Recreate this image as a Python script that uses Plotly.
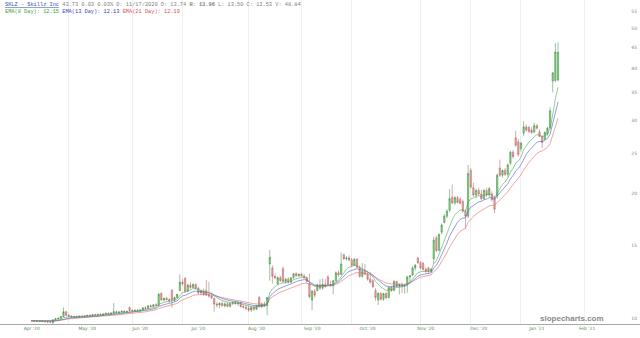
import math
import pandas as pd
import plotly.graph_objects as go

HOLIDAYS = ["2020-04-10", "2020-05-25", "2020-07-03", "2020-09-07", "2020-11-26",
            "2020-12-25", "2021-01-01", "2021-01-18", "2021-02-15"]

OPEN = [9.85, 9.84, 9.83, 9.82, 9.80, 9.81, 9.79, 9.78, 9.75, 9.90,
        9.95, 9.98, 10.08, 10.35, 10.15, 10.10, 10.06, 10.08, 10.05, 10.10,
        10.07, 10.11, 10.14, 10.12, 10.18, 10.15, 10.20, 10.17, 10.22, 10.26,
        10.22, 10.28, 10.35, 10.30, 10.34, 10.38, 10.33, 10.60, 10.42, 10.40,
        10.44, 10.41, 10.45, 10.58, 10.55, 10.70, 10.66, 10.76, 10.72, 11.45,
        11.05, 11.15, 11.08, 11.65, 11.05, 11.20, 11.65, 12.20, 12.45, 11.60,
        12.00, 11.85, 12.05, 11.80, 11.50, 11.60, 11.65, 11.35, 11.30, 11.15,
        10.80, 10.75, 10.85, 10.70, 10.82, 10.66, 10.84, 10.90, 10.82, 10.88,
        10.65, 10.62, 10.55, 10.45, 10.60, 10.50, 11.20, 10.65, 10.80, 10.70,
        13.50, 13.20, 12.60, 12.10, 12.50, 13.15, 12.25, 12.40, 12.20, 12.50,
        12.78, 12.65, 12.75, 12.62, 12.50, 12.10, 11.05, 11.60, 11.65, 12.00,
        11.80, 12.05, 12.55, 12.05, 11.95, 12.30, 12.85, 12.75, 14.20, 13.90,
        13.95, 13.80, 13.40, 13.85, 13.25, 12.60, 12.95, 12.75, 12.40, 12.30,
        11.65, 11.05, 11.45, 11.10, 11.45, 11.20, 11.85, 11.65, 12.25, 11.95,
        12.05, 11.95, 12.00, 12.55, 12.70, 13.20, 13.95, 13.60, 13.55, 13.10,
        13.20, 12.95, 13.90, 15.60, 14.55, 16.10, 17.00, 17.60, 18.20, 19.55,
        18.95, 19.50, 19.30, 19.10, 18.10, 17.60, 22.70, 20.60, 19.80, 20.30,
        19.90, 19.40, 20.30, 19.80, 19.90, 19.50, 19.70, 23.00, 22.10, 22.70,
        22.20, 23.60, 25.10, 27.20, 26.60, 25.60, 27.90, 28.90, 28.80, 28.40,
        28.10, 29.10, 28.10, 27.40, 27.00, 27.80, 28.80, 37.30, 37.40, 37.50]

HIGH = [9.90, 9.88, 9.87, 9.86, 9.85, 9.84, 9.83, 9.82, 9.92, 9.98,
        10.02, 10.10, 10.60, 10.40, 10.20, 10.15, 10.12, 10.14, 10.12, 10.16,
        10.13, 10.18, 10.20, 10.22, 10.25, 10.22, 10.28, 10.25, 10.30, 10.32,
        10.30, 10.86, 10.42, 10.38, 10.42, 10.45, 10.40, 10.65, 10.48, 10.46,
        10.50, 10.48, 10.60, 10.66, 10.72, 10.78, 10.80, 10.85, 11.50, 11.55,
        11.20, 11.25, 11.15, 11.75, 11.25, 11.45, 12.75, 12.40, 12.55, 12.10,
        12.20, 12.10, 12.10, 11.90, 11.70, 11.75, 12.35, 12.20, 11.50, 11.20,
        10.95, 10.90, 10.95, 10.90, 10.92, 10.88, 10.95, 10.98, 10.92, 10.95,
        10.80, 10.75, 10.70, 10.65, 10.72, 10.75, 11.30, 10.90, 10.95, 11.25,
        14.60, 13.40, 12.80, 12.60, 12.65, 13.30, 12.50, 12.55, 12.55, 12.85,
        12.90, 12.80, 12.85, 12.75, 12.60, 12.80, 11.70, 11.75, 12.10, 12.40,
        12.45, 12.40, 12.70, 12.30, 12.35, 12.95, 13.00, 14.40, 14.30, 14.10,
        14.15, 13.95, 13.95, 13.95, 13.40, 13.55, 13.50, 12.95, 12.90, 12.40,
        11.80, 11.55, 11.55, 11.50, 11.55, 11.90, 11.95, 12.35, 12.30, 12.10,
        12.15, 12.10, 12.65, 12.70, 13.35, 13.50, 14.05, 13.70, 13.65, 13.25,
        13.30, 13.20, 15.70, 15.80, 16.00, 16.90, 17.80, 18.30, 20.45, 21.00,
        19.70, 19.70, 19.60, 19.30, 18.30, 23.40, 23.00, 21.20, 20.50, 20.60,
        20.40, 20.50, 20.60, 20.70, 20.20, 19.70, 22.30, 24.10, 22.80, 23.00,
        23.60, 25.30, 25.40, 28.30, 27.00, 26.60, 29.80, 29.30, 29.10, 28.90,
        29.60, 29.40, 28.50, 27.60, 28.20, 28.90, 32.20, 39.20, 46.00, 46.20]

LOW = [9.80, 9.80, 9.79, 9.78, 9.77, 9.76, 9.75, 9.74, 9.65, 9.86,
       9.90, 9.95, 10.05, 10.10, 10.05, 10.02, 10.00, 10.03, 10.00, 10.04,
       10.02, 10.06, 10.08, 10.08, 10.12, 10.10, 10.14, 10.12, 10.16, 10.18,
       10.17, 10.22, 10.25, 10.22, 10.28, 10.30, 10.26, 10.35, 10.34, 10.33,
       10.36, 10.35, 10.42, 10.50, 10.52, 10.60, 10.62, 10.68, 10.70, 11.00,
       10.95, 11.00, 10.90, 10.60, 10.95, 11.15, 11.60, 11.95, 11.50, 11.55,
       11.75, 11.80, 11.70, 11.40, 11.35, 11.30, 11.30, 11.20, 11.10, 10.35,
       10.60, 10.55, 10.65, 10.60, 10.62, 10.60, 10.75, 10.78, 10.70, 10.60,
       10.55, 10.45, 10.35, 10.33, 10.40, 10.45, 10.60, 10.55, 10.62, 10.15,
       12.30, 12.10, 12.40, 12.00, 12.20, 12.15, 12.10, 12.10, 12.15, 12.45,
       12.55, 12.55, 12.60, 12.45, 12.20, 11.15, 10.45, 11.20, 11.60, 11.70,
       11.70, 11.85, 11.95, 11.90, 11.40, 12.25, 12.55, 12.70, 13.80, 13.75,
       13.70, 13.30, 13.35, 13.20, 12.50, 12.50, 12.70, 12.30, 12.10, 11.80,
       11.00, 10.75, 11.00, 11.00, 11.10, 11.15, 11.55, 11.60, 11.85, 11.40,
       11.50, 11.45, 11.50, 12.20, 12.60, 13.00, 13.50, 13.10, 13.00, 12.85,
       12.80, 12.85, 13.50, 14.40, 14.50, 15.90, 16.90, 17.40, 18.00, 18.80,
       18.70, 18.90, 18.80, 17.90, 16.40, 17.40, 20.50, 19.60, 19.40, 19.70,
       19.20, 19.30, 19.60, 19.60, 19.10, 17.90, 19.40, 21.90, 21.80, 22.00,
       21.90, 23.40, 24.20, 25.90, 24.50, 25.20, 27.50, 28.10, 27.90, 27.80,
       27.90, 28.50, 27.30, 25.70, 26.80, 27.50, 28.50, 35.00, 37.00, 37.20]

CLOSE = [9.84, 9.83, 9.82, 9.80, 9.81, 9.79, 9.78, 9.77, 9.90, 9.95,
         9.98, 10.08, 10.35, 10.15, 10.10, 10.06, 10.08, 10.05, 10.10, 10.07,
         10.11, 10.14, 10.12, 10.18, 10.15, 10.20, 10.17, 10.22, 10.26, 10.22,
         10.28, 10.35, 10.30, 10.34, 10.38, 10.33, 10.37, 10.42, 10.40, 10.44,
         10.41, 10.45, 10.58, 10.55, 10.70, 10.66, 10.76, 10.72, 11.40, 11.05,
         11.15, 11.08, 11.00, 11.05, 11.20, 11.40, 12.20, 12.10, 11.60, 12.00,
         11.85, 12.05, 11.80, 11.50, 11.60, 11.40, 11.35, 11.30, 11.20, 10.80,
         10.75, 10.85, 10.70, 10.82, 10.66, 10.84, 10.90, 10.82, 10.88, 10.65,
         10.62, 10.55, 10.45, 10.60, 10.50, 10.70, 10.65, 10.80, 10.70, 11.20,
         14.00, 12.60, 12.50, 12.50, 12.30, 12.25, 12.40, 12.20, 12.50, 12.78,
         12.65, 12.75, 12.62, 12.50, 12.25, 11.25, 11.60, 11.35, 12.00, 11.80,
         12.05, 11.90, 12.05, 12.00, 12.30, 12.85, 12.70, 13.50, 13.90, 13.95,
         13.80, 13.40, 13.85, 13.25, 12.60, 12.95, 12.75, 12.40, 12.20, 11.90,
         11.20, 11.45, 11.10, 11.45, 11.20, 11.85, 11.65, 12.25, 11.95, 12.05,
         11.95, 12.00, 12.55, 12.65, 13.20, 13.40, 13.60, 13.20, 13.10, 12.95,
         12.95, 13.10, 15.40, 14.55, 15.90, 16.75, 17.60, 18.10, 19.40, 18.95,
         19.50, 19.00, 18.90, 18.10, 17.60, 22.30, 20.70, 19.80, 20.30, 19.90,
         19.40, 20.30, 19.80, 20.50, 19.30, 18.30, 22.10, 22.10, 22.70, 22.20,
         23.40, 25.10, 24.50, 26.10, 24.80, 26.40, 28.90, 28.40, 28.20, 28.00,
         29.10, 28.70, 27.40, 26.50, 28.00, 28.70, 31.60, 39.00, 43.80, 43.73]

MONTH_TICKS = ["2020-04-01", "2020-05-01", "2020-06-01", "2020-07-01", "2020-08-03",
               "2020-09-01", "2020-10-01", "2020-11-02", "2020-12-01", "2021-01-04",
               "2021-02-01"]
MONTH_LABELS = ["Apr '20", "May '20", "Jun '20", "Jul '20", "Aug '20", "Sep '20",
                "Oct '20", "Nov '20", "Dec '20", "Jan '21", "Feb '21"]
GRID_DATES = ["2020-04-22", "2020-05-27", "2020-06-23", "2020-07-29", "2020-08-26",
              "2020-09-23", "2020-10-29", "2020-11-25", "2020-12-23", "2021-01-29"]
Y_TICKS = [10, 15, 20, 25, 30, 35, 40, 45, 50, 55]

dates = pd.bdate_range(start="2020-04-01", periods=len(CLOSE), freq="C", holidays=HOLIDAYS)
close = pd.Series(CLOSE)
ema8 = close.ewm(span=8, adjust=False).mean()
ema13 = close.ewm(span=13, adjust=False).mean()
ema21 = close.ewm(span=21, adjust=False).mean()

fig = go.Figure()
for ser, col in [(ema21, "#e46a64"), (ema13, "#4a5cd0"), (ema8, "#4fa84f")]:
    fig.add_trace(go.Scatter(x=dates, y=ser, mode="lines",
                             line=dict(color=col, width=0.6), hoverinfo="skip"))
fig.add_trace(go.Candlestick(
    x=dates, open=OPEN, high=HIGH, low=LOW, close=CLOSE,
    increasing=dict(line=dict(color="#3f7f3f", width=0.5), fillcolor="#7ee07e"),
    decreasing=dict(line=dict(color="#a85858", width=0.5), fillcolor="#eeaaaa"),
    whiskerwidth=0,
))

header = (
    "<span style='color:#3050b0'><u>SKLZ - Skillz Inc</u></span> "
    "<span style='color:#808080'>43.73 0.03 0.03% D: 11/17/2020 O: 13.74 </span>"
    "<b>H: 13.96</b>"
    "<span style='color:#808080'> L: 13.50 C: 13.53 V: 48.84</span><br>"
    "<span style='color:#3f9e3f'>EMA(8 Day): 12.15</span> "
    "<span style='color:#3346c8'>EMA(13 Day): 12.13</span> "
    "<span style='color:#e0504a'>EMA(21 Day): 12.19</span>"
)

fig.update_layout(
    width=640, height=338,
    margin=dict(l=0, r=0, t=0, b=14),
    paper_bgcolor="white", plot_bgcolor="white",
    showlegend=False,
    xaxis=dict(
        type="date",
        range=["2020-03-16", "2021-03-02"],
        rangebreaks=[dict(bounds=["sat", "mon"]), dict(values=HOLIDAYS)],
        rangeslider=dict(visible=False),
        tickmode="array", tickvals=MONTH_TICKS, ticktext=MONTH_LABELS,
        showgrid=False, showline=True, linecolor="#a8a8a8", linewidth=1,
        ticks="", zeroline=False,
        tickfont=dict(size=4.5, color="#5a8a5a", family="DejaVu Sans"),
        minor=dict(tickmode="array", tickvals=GRID_DATES, showgrid=True,
                   gridcolor="#efefef", gridwidth=1, ticks=""),
    ),
    yaxis=dict(
        type="log", side="right",
        range=[math.log10(9.67), math.log10(58.47)],
        tickmode="array", tickvals=Y_TICKS, ticktext=[str(v) for v in Y_TICKS],
        ticklabelposition="inside", showgrid=False, zeroline=False, showline=False,
        ticks="", tickfont=dict(size=4.5, color="#808080", family="DejaVu Sans"),
    ),
    annotations=[
        dict(text=header, xref="paper", yref="paper", x=0.005, y=1.0,
             xanchor="left", yanchor="top", showarrow=False, align="left",
             font=dict(family="Liberation Mono", size=5.3, color="#808080")),
        dict(text="<b>slopecharts.com</b>", xref="paper", yref="paper",
             x=0.947, y=0.018, xanchor="right", yanchor="middle", showarrow=False,
             font=dict(family="Liberation Sans", size=8, color="#8a8a8a")),
    ],
)

fig.write_html("out.html")
